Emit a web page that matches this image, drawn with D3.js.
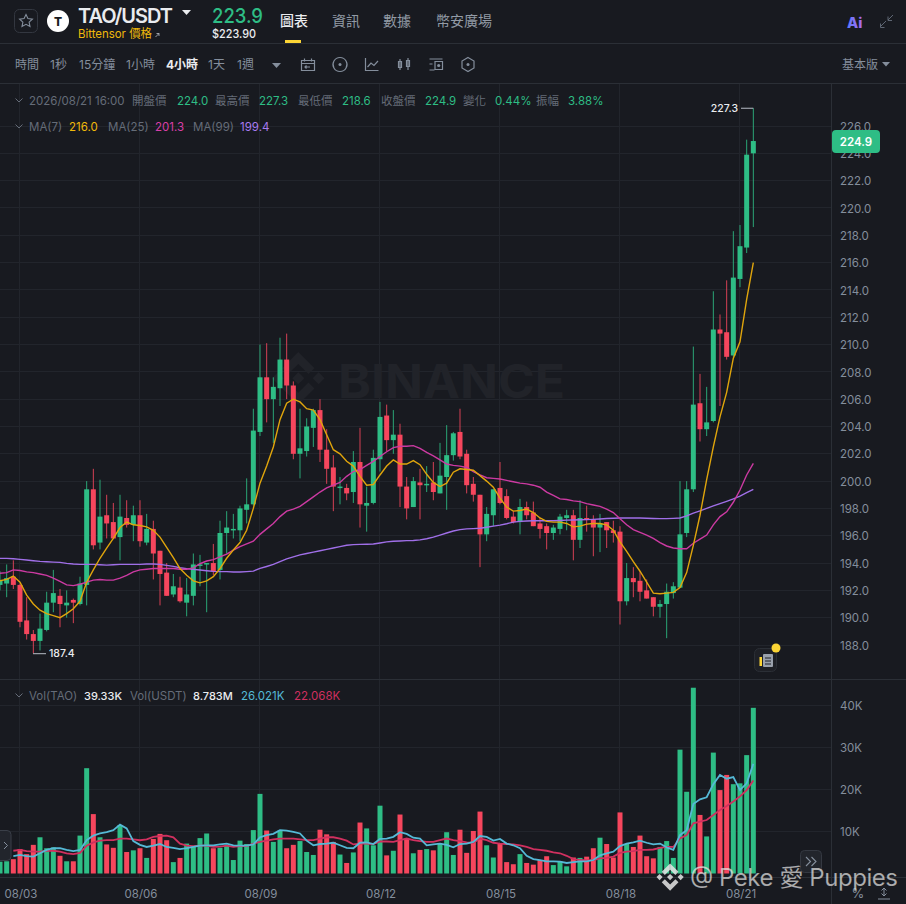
<!DOCTYPE html>
<html>
<head>
<meta charset="utf-8">
<script src="https://cdn.jsdelivr.net/npm/d3@7"></script>
<style>
  html, body { margin: 0; padding: 0; background: #181a20; }
  svg { display: block; }
  text { font-family: Inter, "Noto Sans CJK TC", sans-serif; }
  .axis text { fill: #848e9c; font-size: 11.5px; }
</style>
</head>
<body>
<div id="chart"></div>
<script>
// candles, one per 4 hours
var open = [192.4,192.5,193.0,192.4,189.8,188.8,188.3,189.1,191.1,191.6,190.9,191.3,191.0,192.4,199.4,195.5,197.5,197.0,195.9,197.3,
  196.8,197.5,195.5,196.5,194.9,193.3,191.7,192.2,191.1,191.6,193.8,193.9,194.0,193.5,196.2,196.4,196.4,197.9,198.3,203.6,
  207.6,206.0,206.8,208.9,207.0,202.0,202.2,203.9,205.2,202.3,201.0,199.5,199.5,199.2,201.4,198.2,198.4,201.6,204.8,203.0,
  203.4,199.6,198.1,199.9,199.7,199.9,199.1,200.3,201.9,203.6,202.0,199.8,199.0,196.1,197.5,199.5,198.9,197.4,197.0,198.1,
  197.7,196.9,196.7,196.2,196.5,197.3,197.5,195.7,197.3,197.2,196.6,197.0,196.4,196.3,191.2,192.9,192.7,192.0,191.5,190.8,
  191.0,191.8,192.2,196.2,199.4,205.7,203.8,204.4,211.1,210.9,209.2,214.8,217.1,224.0];
var high = [193.4,193.9,194.2,192.5,191.5,189.1,190.3,191.9,193.5,192.1,192.0,191.4,193.0,200.0,200.9,200.1,199.0,198.4,199.0,198.6,
  198.2,198.6,197.6,197.1,194.9,194.0,193.2,193.0,192.9,194.7,194.6,194.0,195.4,197.1,197.8,197.6,198.2,200.2,205.3,210.0,
  210.1,207.6,210.5,210.8,207.3,205.3,204.6,205.3,206.0,203.8,201.9,200.3,199.8,202.2,203.9,199.6,202.3,205.8,205.6,205.2,
  204.2,200.3,200.3,200.9,201.1,201.4,202.8,204.1,203.6,205.3,202.3,200.3,199.0,198.1,199.4,201.4,199.4,197.8,198.7,198.5,
  198.5,197.3,196.9,196.8,197.6,197.9,197.9,198.6,198.2,197.5,197.6,197.0,197.1,196.7,194.0,193.7,193.4,192.8,191.5,191.3,
  192.5,192.6,200.0,200.0,209.85,207.85,206.9,213.9,212.2,214.7,218.3,218.75,225.0,227.3];
var low = [192.0,191.5,192.1,189.3,188.4,187.4,187.6,189.0,190.4,189.3,190.0,189.6,190.9,190.9,195.0,195.0,195.8,195.8,194.2,196.6,
  195.6,195.2,195.3,192.8,190.9,191.6,191.5,191.1,190.1,190.9,192.3,190.4,193.1,192.8,194.7,195.8,195.6,196.9,198.2,203.3,
  204.3,202.8,205.5,206.0,201.6,200.2,201.8,202.5,201.4,199.8,197.8,198.3,198.6,198.4,196.6,196.3,198.3,200.7,202.2,202.0,
  198.1,197.2,198.1,197.2,199.2,198.6,199.1,197.9,201.5,201.6,199.1,198.5,193.7,195.6,196.7,198.3,197.2,196.9,196.1,197.2,
  196.7,195.8,195.0,195.7,196.1,196.4,194.2,195.1,196.3,194.5,194.8,195.1,195.5,189.5,190.9,191.5,191.2,191.4,190.1,190.0,
  188.5,191.4,192.2,195.9,199.2,202.9,203.3,204.3,205.5,208.9,209.1,214.2,216.7,218.6];
var close = [192.7,192.9,192.4,189.7,188.8,188.3,189.2,191.1,191.8,191.0,191.1,191.1,192.5,199.4,195.3,197.4,196.9,195.8,197.4,196.8,
  197.5,195.6,196.5,194.7,193.2,191.6,192.3,191.2,191.7,193.9,193.9,194.0,193.4,196.2,196.6,196.5,198.0,198.3,203.7,207.6,
  206.0,206.9,208.9,207.0,202.0,202.4,204.0,205.2,202.3,200.9,199.6,199.6,199.1,201.4,198.3,198.4,201.7,204.7,203.0,203.4,
  199.6,198.0,200.0,199.7,199.8,199.2,200.4,201.9,203.5,201.8,199.7,199.0,196.1,197.6,199.4,198.4,197.3,197.0,198.1,197.5,
  196.7,196.5,196.2,196.6,197.4,197.5,195.7,197.3,197.2,196.6,196.9,196.4,196.2,191.2,192.9,192.6,191.9,191.4,190.8,191.0,
  191.9,192.3,196.1,199.4,205.6,203.8,204.3,211.1,210.8,209.1,214.9,217.2,223.9,224.9];

var ma7 = [192.7,192.8,193.05,192.6,191.65,191.0,190.55,190.3,190.15,190.0,190.3,190.65,191.2,192.6,193.5,194.35,195.1,195.8,196.6,197.0,
  196.8,196.75,196.65,196.4,195.9,195.15,194.4,193.6,193.1,192.7,192.55,192.7,193.0,193.6,194.35,194.95,195.5,196.4,198.0,199.85,
  201.1,202.5,204.5,205.7,206.0,205.8,205.3,205.2,204.5,203.4,202.3,202.0,201.45,201.1,200.35,199.7,199.75,200.45,201.1,201.55,
  201.25,201.25,201.5,201.2,200.5,199.9,199.6,199.85,200.65,200.9,200.85,200.8,200.4,200.0,199.55,198.75,198.1,197.8,197.85,197.95,
  197.7,197.3,197.05,197.0,197.0,196.9,196.65,196.7,196.85,196.9,196.9,196.8,196.4,195.55,194.85,194.1,193.4,192.6,191.8,191.75,
  191.8,191.85,192.2,193.3,195.3,197.5,200.1,202.5,204.7,206.5,209.0,210.2,213.3,216.0];
var ma25 = [193.25,193.3,193.5,193.45,193.35,193.3,193.2,193.1,192.9,192.65,192.4,192.35,192.45,192.6,192.75,192.8,192.75,192.75,192.9,193.1,
  193.35,193.5,193.55,193.6,193.6,193.6,193.6,193.55,193.55,193.65,193.95,194.15,194.25,194.45,194.65,194.95,195.2,195.4,195.6,196.1,
  196.5,196.9,197.4,197.8,197.95,198.15,198.5,198.85,199.2,199.5,199.7,199.9,200.35,200.7,200.85,201.15,201.45,201.8,202.15,202.45,
  202.55,202.55,202.6,202.4,202.1,201.85,201.55,201.25,201.15,201.1,201.0,200.7,200.45,200.25,200.2,200.15,200.05,199.95,199.85,199.8,
  199.7,199.55,199.2,198.95,198.7,198.65,198.55,198.5,198.35,198.25,198.15,197.95,197.7,197.25,196.8,196.45,196.25,196.05,195.8,195.5,
  195.25,195.1,195.05,195.05,195.45,195.75,196.05,196.8,197.4,197.75,198.45,199.35,200.45,201.3];
var ma99 = [194.34,194.34,194.32,194.27,194.22,194.17,194.12,194.1,194.07,194.05,193.98,193.93,193.9,193.9,193.9,193.88,193.85,193.88,193.9,193.9,
  193.9,193.9,193.93,193.93,193.9,193.83,193.76,193.66,193.59,193.54,193.49,193.44,193.39,193.37,193.37,193.34,193.34,193.37,193.41,193.61,
  193.75,193.9,194.1,194.3,194.45,194.6,194.7,194.8,194.9,195.0,195.1,195.2,195.3,195.35,195.37,195.38,195.4,195.47,195.55,195.6,
  195.62,195.64,195.65,195.7,195.78,195.9,196.05,196.2,196.35,196.45,196.5,196.52,196.55,196.62,196.7,196.78,196.88,197.0,197.05,197.08,
  197.1,197.1,197.1,197.1,197.12,197.14,197.15,197.17,197.18,197.2,197.23,197.26,197.28,197.3,197.3,197.3,197.3,197.28,197.26,197.25,
  197.25,197.27,197.3,197.45,197.65,197.82,198.0,198.18,198.35,198.52,198.7,198.9,199.15,199.4];

// volume in thousands of TAO
var vol = [2.8,2.9,3.4,5.8,4.6,6.8,8.6,6.0,6.2,4.2,2.9,2.9,9.0,25.0,14.1,8.6,6.9,6.1,11.5,5.1,
  5.5,6.0,3.7,8.2,9.4,7.9,2.7,3.7,7.1,6.4,8.4,9.5,6.0,6.1,6.6,3.2,7.8,7.0,10.3,18.9,
  10.2,7.5,10.2,6.0,6.8,7.7,5.1,4.4,10.4,9.3,7.5,4.5,2.5,5.0,12.1,10.7,6.7,16.1,4.3,5.4,
  14.0,8.3,4.8,5.6,5.8,5.5,7.1,9.8,4.4,10.4,4.9,10.1,14.7,6.7,3.8,7.1,2.7,2.2,4.6,2.5,
  2.1,3.2,4.1,2.0,2.9,1.7,3.8,3.7,4.0,6.0,8.5,7.0,3.8,14.5,7.0,6.3,9.0,4.1,3.6,6.3,
  7.7,3.7,29.4,19.4,44.1,13.9,8.8,28.7,19.8,23.4,21.2,21.4,28.1,39.33];
var volFast = [null,null,4.1,4.4,4.1,4.0,4.8,5.6,6.0,6.0,5.6,5.3,5.6,7.9,9.0,9.5,9.8,10.3,11.6,10.7,
  7.7,6.8,6.3,6.6,7.0,6.3,6.1,5.8,6.0,6.3,6.6,6.7,6.7,6.9,7.1,6.7,6.6,6.6,6.9,8.6,
  9.1,9.4,10.3,10.2,9.9,9.5,7.8,6.7,7.0,7.1,7.3,6.7,6.1,6.0,7.3,7.4,7.0,8.2,8.3,8.7,
  9.8,9.4,8.5,8.3,6.7,6.9,7.1,6.8,6.2,7.0,7.1,7.5,8.9,8.7,7.8,8.2,7.1,6.7,6.0,4.2,
  3.4,3.2,2.9,2.9,2.8,2.5,2.7,2.9,2.9,3.2,4.3,4.8,5.2,6.5,7.1,7.4,7.8,7.3,6.9,7.1,
  6.2,5.6,9.1,10.3,16.5,17.6,18.1,21.2,23.4,22.5,22.9,19.8,21.4,26.02];
var volSlow = [null,null,5.4,5.6,5.3,5.2,5.2,5.4,5.4,5.2,4.8,4.6,4.9,6.6,7.4,7.8,7.9,7.9,8.3,8.3,
  8.1,7.9,8.1,8.7,8.9,9.0,8.6,7.1,6.6,6.5,6.6,6.6,6.3,6.4,6.6,6.3,6.5,6.5,7.1,7.5,
  7.8,8.1,8.3,8.3,8.3,8.1,7.9,7.9,8.3,8.6,8.6,8.3,7.8,6.9,7.1,7.1,7.0,7.6,7.6,7.5,
  7.9,8.3,7.9,7.7,7.5,7.5,7.9,8.3,7.9,7.7,7.4,7.3,8.3,7.9,7.3,7.1,7.0,6.9,6.7,6.3,
  5.8,5.6,5.4,5.0,4.8,4.2,3.4,3.2,3.1,3.2,3.6,3.7,4.0,4.9,5.2,5.3,5.6,5.6,5.7,6.1,
  6.3,6.3,8.3,9.1,11.9,12.3,12.7,13.9,15.1,16.0,17.1,18.3,19.8,22.07];

var priceTicks = d3.range(188, 227, 2);
var volTicks = [10, 20, 30, 40];
var dateTicks = [3, 21, 39, 57, 75, 93, 111];
var dateLabels = ["08/03", "08/06", "08/09", "08/12", "08/15", "08/18", "08/21"];

var timeframes = ["時間", "1秒", "15分鐘", "1小時", "4小時", "1天", "1週"];
var timeframeX = [15, 50, 79, 126, 166, 208, 237];
var navItems = ["圖表", "資訊", "數據", "幣安廣場"];
var navX = [280, 332, 383, 436];

var green = "#2ebd85", red = "#f6465d", gridColor = "#22252c", lineColor = "#2b2f36", gray = "#848e9c";
var width = 906, height = 904, chartRight = 832;

var svg = d3.select("#chart").append("svg").attr("width", width).attr("height", height);
svg.append("rect").attr("width", width).attr("height", height).attr("fill", "#181a20");

var x = d3.scaleLinear().domain([0, 113]).range([0, 753.33]);
var y = d3.scaleLinear().domain([226, 188]).range([126, 645]);
var yVol = d3.scaleLinear().domain([0, 40]).range([873.5, 705]);

var binanceLogo = ["M38.73 53.2l24.59-24.58 24.6 24.6 14.3-14.31L63.32 0 24.43 38.9l14.3 14.3z",
  "M0 63.31l14.3-14.31 14.31 14.31-14.31 14.3z",
  "M38.73 73.41l24.59 24.59 24.6-24.6 14.31 14.29-38.9 38.91-38.91-38.88-.01-.01z",
  "M98 63.31l14.3-14.3 14.31 14.3-14.31 14.3z",
  "M77.83 63.3L63.32 48.78 52.59 59.51l-1.24 1.23-2.54 2.54 14.51 14.5 14.51-14.47z"].join("");

function label(t, px, py, color, size, weight, anchor) {
  return svg.append("text").attr("x", px).attr("y", py).text(t)
    .attr("fill", color).attr("font-size", size).attr("font-weight", weight || 400)
    .attr("text-anchor", anchor || "start");
}

function stroked(d, color, w) {
  return svg.append("path").attr("d", d).attr("fill", "none")
    .attr("stroke", color || gray).attr("stroke-width", w || 1.2);
}

drawGrid();
drawWatermark();
drawCandles();
drawVolume();
drawAxes();
drawHeader();
drawToolbar();
drawLegends();
drawOverlays();

function drawGrid() {
  var grid = svg.append("g").attr("stroke", gridColor).attr("stroke-width", 1).attr("shape-rendering", "crispEdges");
  grid.selectAll(".h").data(priceTicks).enter().append("line")
    .attr("x1", 0).attr("x2", chartRight).attr("y1", function (d) { return y(d); }).attr("y2", function (d) { return y(d); });
  grid.selectAll(".hv").data(volTicks).enter().append("line")
    .attr("x1", 0).attr("x2", chartRight).attr("y1", function (d) { return yVol(d); }).attr("y2", function (d) { return yVol(d); });
  grid.selectAll(".v").data(dateTicks).enter().append("line")
    .attr("x1", function (d) { return x(d); }).attr("x2", function (d) { return x(d); }).attr("y1", 84).attr("y2", 877);

  // panel borders
  var borders = svg.append("g").attr("stroke", lineColor).attr("shape-rendering", "crispEdges");
  borders.append("line").attr("x1", 0).attr("x2", width).attr("y1", 43.5).attr("y2", 43.5);
  borders.append("line").attr("x1", 0).attr("x2", width).attr("y1", 83.5).attr("y2", 83.5);
  borders.append("line").attr("x1", 0).attr("x2", width).attr("y1", 679.5).attr("y2", 679.5);
  borders.append("line").attr("x1", 0).attr("x2", width).attr("y1", 877.5).attr("y2", 877.5);
  borders.append("line").attr("x1", 831.5).attr("x2", 831.5).attr("y1", 84).attr("y2", height);
}

function drawWatermark() {
  svg.append("path").attr("d", binanceLogo).attr("fill", "#212329")
    .attr("transform", "translate(272,352) scale(0.415)");
  label("BINANCE", 338, 398, "#212329", 46, 700).attr("textLength", 227).attr("lengthAdjust", "spacingAndGlyphs");
}

function drawCandles() {
  var idx = d3.range(open.length);
  var g = svg.append("g");

  g.selectAll(".wick").data(idx).enter().append("rect")
    .attr("x", function (i) { return x(i) - 0.5; })
    .attr("width", 1)
    .attr("y", function (i) { return y(high[i]); })
    .attr("height", function (i) { return y(low[i]) - y(high[i]); })
    .attr("fill", function (i) { return close[i] >= open[i] ? green : red; })
    .attr("fill-opacity", 0.85);

  g.selectAll(".body").data(idx).enter().append("rect")
    .attr("x", function (i) { return x(i) - 2.5; })
    .attr("width", 5)
    .attr("y", function (i) { return y(Math.max(open[i], close[i])); })
    .attr("height", function (i) { return Math.max(1.5, Math.abs(y(open[i]) - y(close[i]))); })
    .attr("fill", function (i) { return close[i] >= open[i] ? green : red; });

  var line = d3.line().x(function (d, i) { return x(i); }).y(function (d) { return y(d); });
  [[ma99, "#a06fe8"], [ma25, "#cc3aa2"], [ma7, "#e0a50c"]].forEach(function (m) {
    g.append("path").datum(m[0]).attr("d", line).attr("fill", "none").attr("stroke", m[1]).attr("stroke-width", 1.4);
  });
}

function drawVolume() {
  var idx = d3.range(vol.length);
  svg.append("g").selectAll("rect").data(idx).enter().append("rect")
    .attr("x", function (i) { return x(i) - 2.5; })
    .attr("width", 5)
    .attr("y", function (i) { return yVol(vol[i]); })
    .attr("height", function (i) { return yVol(0) - yVol(vol[i]); })
    .attr("fill", function (i) { return close[i] >= open[i] ? green : red; });

  var line = d3.line()
    .defined(function (d) { return d !== null; })
    .x(function (d, i) { return x(i); })
    .y(function (d) { return yVol(d); });
  svg.append("path").datum(volSlow).attr("d", line).attr("fill", "none").attr("stroke", "#d0305f").attr("stroke-width", 1.8);
  svg.append("path").datum(volFast).attr("d", line).attr("fill", "none").attr("stroke", "#55b9d6").attr("stroke-width", 1.8);
}

function drawAxes() {
  var priceAxis = d3.axisRight(y).tickValues(priceTicks).tickSize(0).tickPadding(8)
    .tickFormat(d3.format(".1f"));
  svg.append("g").attr("class", "axis").attr("transform", "translate(832,0.5)").call(priceAxis)
    .call(function (g) { g.select(".domain").remove(); });

  var volAxis = d3.axisRight(yVol).tickValues(volTicks).tickSize(0).tickPadding(8)
    .tickFormat(function (d) { return d + "K"; });
  svg.append("g").attr("class", "axis").attr("transform", "translate(832,0.5)").call(volAxis)
    .call(function (g) { g.select(".domain").remove(); });

  var timeAxis = d3.axisBottom(x).tickValues(dateTicks).tickSize(0).tickPadding(13)
    .tickFormat(function (d) { return dateLabels[dateTicks.indexOf(d)]; });
  svg.append("g").attr("class", "axis").attr("transform", "translate(0.5,877)").call(timeAxis)
    .call(function (g) { g.select(".domain").remove(); });
}

function drawHeader() {
  // favourite button and coin icon
  svg.append("rect").attr("x", 14.5).attr("y", 9.5).attr("width", 23).attr("height", 23).attr("rx", 5)
    .attr("fill", "none").attr("stroke", "#333740");
  stroked("M26 14.5l1.9 4.1 4.5.5-3.3 3 .9 4.4-4-2.2-4 2.2.9-4.4-3.3-3 4.5-.5z", gray, 1.1);
  svg.append("circle").attr("cx", 58).attr("cy", 21).attr("r", 11).attr("fill", "#fff");
  label("T", 58, 25.5, "#181a20", 12, 800, "middle");

  label("TAO/USDT", 78, 23, "#eaecef", 20, 600).attr("textLength", 95);
  svg.append("path").attr("d", "M182 10h9l-4.5 5z").attr("fill", "#eaecef");
  label("Bittensor 價格", 78, 38, "#f0b90b", 12).attr("textLength", 74).attr("lengthAdjust", "spacingAndGlyphs");
  stroked("M155.5 37l3.5-3.5M156.5 33.5h2.5v2.5", "#b7bdc6", 0.8);
  label("223.9", 212, 23, green, 20, 500).attr("textLength", 51).attr("lengthAdjust", "spacingAndGlyphs");
  label("$223.90", 212, 38, "#eaecef", 12, 500).attr("textLength", 44).attr("lengthAdjust", "spacingAndGlyphs");

  navItems.forEach(function (t, i) {
    label(t, navX[i], 26, i == 0 ? "#eaecef" : "#929aa5", 14, i == 0 ? 500 : 400);
  });
  svg.append("rect").attr("x", 285).attr("y", 40).attr("width", 16).attr("height", 3).attr("fill", "#fcd535");

  // top right corner
  var ai = svg.append("defs").append("linearGradient").attr("id", "ai");
  ai.append("stop").attr("offset", 0).attr("stop-color", "#5b7bff");
  ai.append("stop").attr("offset", 1).attr("stop-color", "#b06ae8");
  label("Ai", 847, 28, "url(#ai)", 14.5, 800);
  stroked("M880 27l6-6M880.5 23.5v4h4M893 15l-5 5M888 16.5v4h4", "#5e6673", 1);
}

function drawToolbar() {
  timeframes.forEach(function (t, i) {
    label(t, timeframeX[i], 69, i == 4 ? "#eaecef" : gray, 12, i == 4 ? 700 : 400);
  });
  svg.append("path").attr("d", "M272 63h9l-4.5 5z").attr("fill", gray);

  stroked("M301.5 60.5h13v10h-13zM301.5 63.5h13M304.5 58.5v3M311.5 58.5v3M310 67h-5M306.5 65.5l-1.5 1.5 1.5 1.5");
  stroked("M340 57.5a7 7 0 1 0 .01 0z");
  svg.append("circle").attr("cx", 340).attr("cy", 64.5).attr("r", 1.5).attr("fill", gray);
  stroked("M365.5 58v12.5h13M367.5 67l3.5-4 3 2.5 4-4.5");
  stroked("M400 59v11M398.5 61.5h3v6h-3zM408 58v12M406.5 60.5h3v6h-3z");
  stroked("M429.5 59h13M429.5 70h5M429.5 64h3M435 61.5h7.5v8h-7.5z");
  svg.append("circle").attr("cx", 438.7).attr("cy", 65.5).attr("r", 1.6).attr("fill", gray);
  stroked("M468 57.5l6 3.5v7l-6 3.5-6-3.5v-7z");
  svg.append("circle").attr("cx", 468).attr("cy", 64.5).attr("r", 1.5).attr("fill", gray);

  label("基本版", 842, 69, gray, 12);
  svg.append("path").attr("d", "M882 62h8l-4 4.5z").attr("fill", gray);
}

function drawLegends() {
  var s = 11.5, dim = "#656c78";
  stroked("M15.5 98.5l3.5 3.5 3.5-3.5", dim, 1);
  stroked("M15.5 124.5l3.5 3.5 3.5-3.5", dim, 1);
  stroked("M15.5 693.5l3.5 3.5 3.5-3.5", dim, 1);

  label("2026/08/21 16:00", 29, 105, dim, s);
  [["開盤價", 132], ["最高價", 215], ["最低價", 298], ["收盤價", 381], ["變化", 463], ["振幅", 536]].forEach(function (d) {
    label(d[0], d[1], 105, dim, s);
  });
  [["224.0", 177], ["227.3", 259], ["218.6", 342], ["224.9", 425], ["0.44%", 495], ["3.88%", 568]].forEach(function (d) {
    label(d[0], d[1], 105, green, s);
  });

  label("MA(7)", 29, 131, dim, s);
  label(ma7[113].toFixed(1), 69, 131, "#f0b90b", s);
  label("MA(25)", 108, 131, dim, s);
  label(ma25[113].toFixed(1), 155, 131, "#d83fa8", s);
  label("MA(99)", 193, 131, dim, s);
  label(ma99[113].toFixed(1), 240, 131, "#a97bf0", s);

  label("Vol(TAO)", 29, 700, dim, s);
  label("39.33K", 84, 700, "#eaecef", 11, 500);
  label("Vol(USDT)", 130, 700, dim, s);
  label("8.783M", 193, 700, "#eaecef", 11, 500);
  label("26.021K", 241, 700, "#55b9d6", s);
  label("22.068K", 294, 700, "#cf2f5f", s);

  // high and low markers
  var hi = d3.max(high), lo = d3.min(low);
  stroked("M741 " + y(hi) + "H" + x(113), "#b7bdc6", 1);
  label(hi.toFixed(1), 738, y(hi) + 4, "#eaecef", 10.5, 500, "end");
  stroked("M33 " + (y(lo) + 0.5) + "H46", "#b7bdc6", 1);
  label(lo.toFixed(1), 49, y(lo) + 3.5, "#eaecef", 10.5, 500);

  // last price tag
  svg.append("rect").attr("x", 832).attr("y", 130).attr("width", 48).attr("height", 23).attr("rx", 4).attr("fill", green);
  label(close[113].toFixed(1), 856, 146, "#fff", 11.5, 600, "middle");
}

function drawOverlays() {
  // note badge
  svg.append("rect").attr("x", 754.5).attr("y", 648.5).attr("width", 22).attr("height", 23).attr("rx", 5)
    .attr("fill", "#1e2026").attr("stroke", "#2b2f36");
  svg.append("rect").attr("x", 763).attr("y", 654).attr("width", 10).attr("height", 13).attr("rx", 1).attr("fill", "#9aa1ac");
  stroked("M765 658h6M765 661h6M765 664h6", "#1e2026", 1);
  svg.append("rect").attr("x", 759.5).attr("y", 657).attr("width", 2.5).attr("height", 9).attr("fill", "#fcd535");
  svg.append("circle").attr("cx", 776).attr("cy", 648).attr("r", 4.5).attr("fill", "#fcd535");

  // scroll buttons
  svg.append("rect").attr("x", -6).attr("y", 830.5).attr("width", 17).attr("height", 30).attr("rx", 4)
    .attr("fill", "#22252c").attr("stroke", "#3a3f48");
  stroked("M4 842l3.5 3.5L4 849", "#848e9c", 1);
  svg.append("rect").attr("x", 800.5).attr("y", 850.5).attr("width", 21).attr("height", 22).attr("rx", 4)
    .attr("fill", "#22252c").attr("stroke", "#343841");
  stroked("M806 857l4.5 4.5-4.5 4.5M811.5 857l4.5 4.5-4.5 4.5", "#848e9c", 1.1);

  // bottom right controls
  label("%", 858, 898, gray, 13, 400, "middle");
  stroked("M884 888v8M881.5 890.5l2.5-2.5 2.5 2.5M881.5 893.5l2.5 2.5 2.5-2.5M878 899h12", gray, 1);

  // repost watermark
  svg.append("path").attr("d", binanceLogo).attr("fill", "#e6e6e6").attr("fill-opacity", 0.85)
    .attr("transform", "translate(656.5,863.5) scale(0.215)");
  label("@ Peke 愛 Puppies", 690, 886, "#e8e8e8", 24, 400)
    .attr("fill-opacity", 0.72).attr("textLength", 208).attr("stroke", "#000").attr("stroke-opacity", 0.15).attr("stroke-width", 0.6);
}
</script>
</body>
</html>
